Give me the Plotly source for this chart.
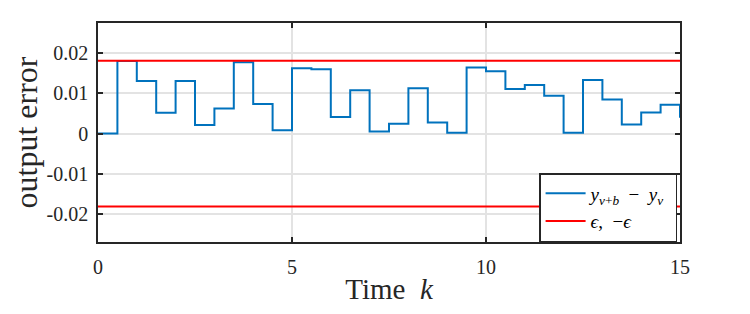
import plotly.graph_objects as go

k = [i * 0.5 for i in range(31)]
err = [0, 0.0179, 0.013, 0.0051, 0.013, 0.0021, 0.0062, 0.0176, 0.0073, 0.0008,
       0.0161, 0.0159, 0.0041, 0.0107, 0.0005, 0.0024, 0.0112, 0.0027, 0.0002,
       0.0163, 0.0154, 0.011, 0.012, 0.0093, 0.0002, 0.0132, 0.0084, 0.0022,
       0.0052, 0.0071, 0.0039]
eps = 0.018
eps_x = [0, 15]

FONT = "Liberation Serif, Times New Roman, serif"
fig = go.Figure()
fig.add_trace(go.Scatter(x=k, y=err, mode="lines", line=dict(color="#0072BD", width=2, shape="hv"),
                         name="<i>y</i><sub><i>v</i>+<i>b</i></sub>&nbsp;&nbsp;−&nbsp;&nbsp;<i>y</i><sub><i>v</i></sub>&nbsp;"))
fig.add_trace(go.Scatter(x=eps_x, y=[eps, eps], mode="lines", line=dict(color="#FF0000", width=2),
                         name="<i>ϵ</i>,&nbsp;&nbsp;−<i>ϵ</i>", legendgroup="eps"))
fig.add_trace(go.Scatter(x=eps_x, y=[-eps, -eps], mode="lines", line=dict(color="#FF0000", width=2),
                         showlegend=False, legendgroup="eps"))

axcommon = dict(showline=True, linecolor="#262626", linewidth=1.5, mirror="allticks",
                ticks="inside", ticklen=5, tickcolor="#262626", tickwidth=1.5,
                showgrid=True, gridcolor="#e3e3e3", gridwidth=2, zeroline=False,
                tickfont=dict(family=FONT, size=20, color="#262626"))
fig.update_xaxes(range=[0, 15], tickvals=[0, 5, 10, 15], ticktext=["0", "5", "10", "15"],
                 ticklabelstandoff=6,
                 title=dict(text="Time &nbsp;<i>k</i>", font=dict(family=FONT, size=29, color="#262626"), standoff=2),
                 **axcommon)
fig.update_yaxes(range=[-0.0268, 0.0273], tickvals=[-0.02, -0.01, 0, 0.01, 0.02],
                 ticktext=["-0.02", "-0.01", "0", "0.01", "0.02"],
                 ticklabelstandoff=4,
                 title=dict(text="output error", font=dict(family=FONT, size=32, color="#262626"), standoff=2),
                 **axcommon)
fig.update_layout(width=750, height=314, margin=dict(l=90, r=78, t=15, b=80),
                  paper_bgcolor="white", plot_bgcolor="white",
                  font=dict(family=FONT, color="#262626"),
                  legend=dict(x=0.995, y=0, xanchor="right", yanchor="bottom",
                              bgcolor="white", bordercolor="#262626", borderwidth=1.5,
                              font=dict(family=FONT, size=19, color="#000000"),
                              tracegroupgap=0, itemwidth=40))
fig.write_html("out.html")
